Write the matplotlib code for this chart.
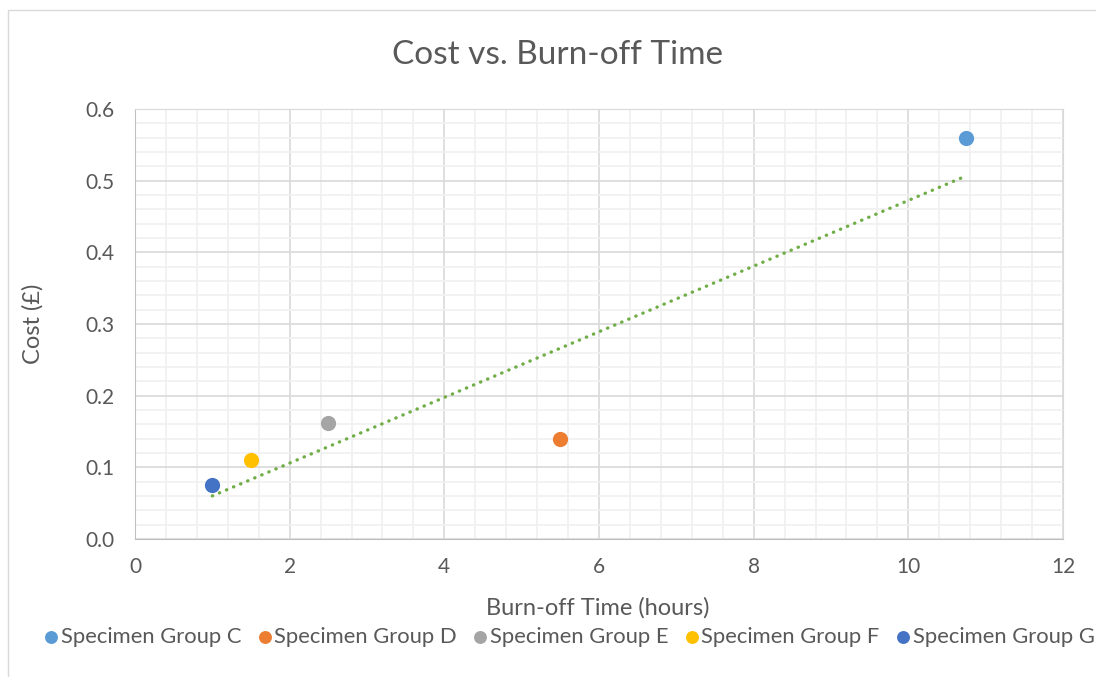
import matplotlib
matplotlib.use("Agg")
import matplotlib.pyplot as plt
from matplotlib.patches import Rectangle
from matplotlib.ticker import MultipleLocator, FormatStrFormatter
import numpy as np

# data
groups = ["Specimen Group C", "Specimen Group D", "Specimen Group E",
          "Specimen Group F", "Specimen Group G"]
burn_time = [10.75, 5.5, 2.5, 1.5, 1.0]
cost = [0.559, 0.139, 0.162, 0.110, 0.075]
colours = ["#5B9BD5", "#ED7D31", "#A5A5A5", "#FFC000", "#4472C4"]

plt.rcParams['font.family'] = ['Lato', 'DejaVu Sans']
txt = "#595959"

fig = plt.figure(figsize=(10.96, 6.77), dpi=100)
ax = fig.add_axes([135/1096, 1-539/677, 928/1096, 430/677])

# chart border
fig.patches.append(Rectangle((8/1096, -0.1), 1.2, 1-10/677+0.1,
                             transform=fig.transFigure, fill=False,
                             edgecolor="#D9D9D9", lw=1))

for g, x, y, c in zip(groups, burn_time, cost, colours):
    ax.scatter([x], [y], s=120, color=c, label=g, zorder=4, linewidths=0)

# linear trendline
k, b = np.polyfit(burn_time, cost, 1)
xs = np.array([min(burn_time), max(burn_time)])
ax.plot(xs, k*xs + b, color="#70AD47", lw=2.4, dashes=(0.1, 2.2),
        dash_capstyle='round', zorder=3)

ax.set_xlim(0, 12)
ax.set_ylim(0, 0.6)
ax.xaxis.set_major_locator(MultipleLocator(2))
ax.xaxis.set_minor_locator(MultipleLocator(0.4))
ax.yaxis.set_major_locator(MultipleLocator(0.1))
ax.yaxis.set_minor_locator(MultipleLocator(0.02))
ax.yaxis.set_major_formatter(FormatStrFormatter('%.1f'))
ax.grid(which='major', color="#D9D9D9", lw=1.2)
ax.grid(which='minor', color="#F0F0F0", lw=1.2)
ax.set_axisbelow(True)
for s in ax.spines.values():
    s.set_color("#D9D9D9")
ax.spines['left'].set_color("#BFBFBF")
ax.spines['bottom'].set_color("#BFBFBF")
ax.tick_params(which='both', length=0, labelsize=15, labelcolor=txt)
ax.tick_params(axis='y', pad=15)
ax.tick_params(axis='x', pad=13)

fig.text(557/1096, 1-55/677, "Cost vs. Burn-off Time", ha='center', va='center',
         fontsize=24, color=txt)
fig.text(33/1096, 1-324/677, "Cost (£)", rotation=90, ha='center', va='center',
         fontsize=17, color=txt)
fig.text(598/1096, 1-608/677, "Burn-off Time (hours)", ha='center', va='center',
         fontsize=17, color=txt)

fig.legend(loc='center', bbox_to_anchor=(569/1096, 1-637/677), ncol=5,
           frameon=False, fontsize=15.8, labelcolor=txt, handletextpad=0.1,
           handlelength=0.7, columnspacing=0.7, markerscale=0.85,
           borderaxespad=0, borderpad=0)

fig.savefig("out.png", dpi=100)
